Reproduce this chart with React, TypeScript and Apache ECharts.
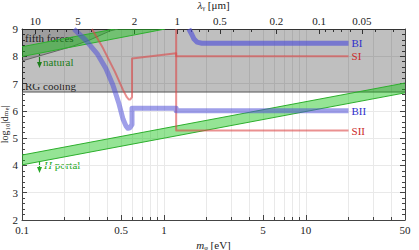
import { useEffect, useRef } from 'react';
import * as echarts from 'echarts';

const FONT = "'Liberation Serif', 'DejaVu Serif', serif";
const HC = 1.24; // eV·μm, λ = HC / m

// axis ticks
const mBottomLabels = [0.1, 0.5, 1, 5, 10, 50];
const mGridValues = [0.1, 0.2, 0.3, 0.4, 0.5, 0.6, 0.7, 0.8, 0.9, 1, 2, 3, 4, 5, 6, 7, 8, 9, 10, 20, 30, 40, 50];
const lambdaLabels = [10, 5, 2, 1, 0.5, 0.2, 0.1, 0.05];
const lambdaMinor = [9, 8, 7, 6, 4, 3, 0.9, 0.8, 0.7, 0.6, 0.4, 0.3, 0.09, 0.08, 0.07, 0.06, 0.04, 0.03];

// curves (m in eV, log10|d|)
const biM = [1.5, 1.58, 1.63, 1.71, 1.85, 20];
const biY = [9.0, 8.78, 8.63, 8.52, 8.48, 8.48];
const siM = [0.311, 0.372, 0.452, 0.515, 0.548, 0.565, 0.58, 0.596, 0.596, 1.22, 1.22, 20];
const siY = [9.0, 8.3, 7.43, 6.77, 6.5, 6.42, 6.42, 6.5, 7.92, 8.11, 8.0, 8.0];
const biiM = [0.232, 0.28, 0.338, 0.39, 0.437, 0.48, 0.515, 0.54, 0.558, 0.575, 0.596, 0.596, 1.22, 1.22, 20];
const biiY = [9.0, 8.6, 8.1, 7.55, 6.95, 6.3, 5.7, 5.45, 5.36, 5.38, 5.5, 6.1, 6.1, 6.0, 6.0];
const siiM = [1.22, 1.22, 20];
const siiY = [9.0, 5.28, 5.28];

// regions
const rgM = [0.1, 50, 50, 0.1];
const rgY = [6.69, 6.69, 9, 9];
const rgEdgeM = [0.1, 50];
const rgEdgeY = [6.69, 6.69];
const fifthM = [0.1, 0.225, 0.301, 0.417, 0.474, 0.1];
const fifthY = [7.83, 8.36, 8.6, 8.93, 9, 9];
const fifthEdgeM = [0.1, 0.225, 0.301, 0.417, 0.474];
const fifthEdgeY = [7.83, 8.36, 8.6, 8.93, 9];
const naturalLoM = [0.1, 1.02];
const naturalLoY = [7.99, 9];
const naturalHiM = [0.1, 0.447];
const naturalHiY = [8.35, 9];
const hLoM = [0.1, 50];
const hLoY = [4.02, 6.66];
const hHiM = [0.1, 50];
const hHiY = [4.38, 7.02];

const L = (v: number) => Math.log10(v);
const X_MIN = -1;
const X_MAX = Math.log10(50);

const fmtNum = (v: number) => String(v);

function pts(ms: number[], ys: number[]) {
  return ms.map((m, i) => [L(m), ys[i]]);
}

type Shape = { m: number[]; y: number[]; fill?: string; stroke?: string; width?: number };

function layer(shapes: Shape[]) {
  return {
    type: 'custom',
    coordinateSystem: 'cartesian2d',
    xAxisIndex: 0,
    yAxisIndex: 0,
    clip: true,
    silent: true,
    data: [[0, 5]],
    renderItem: (_p: any, api: any) => ({
      type: 'group',
      children: shapes.map((s) => {
        const points = s.m.map((m, i) => api.coord([L(m), s.y[i]]));
        if (s.fill) {
          return { type: 'polygon', shape: { points }, style: { fill: s.fill, stroke: null, lineWidth: 0 } };
        }
        return { type: 'polyline', shape: { points }, style: { fill: null, stroke: s.stroke, lineWidth: s.width || 1 } };
      }),
    }),
  };
}

const BLUE = 'rgb(80,80,215)';
const RED = 'rgb(220,70,70)';
const GREEN_FILL = 'rgba(20,195,20,0.45)';
const GREEN_EDGE = 'rgb(45,175,45)';

function lineSeries(ms: number[], ys: number[], color: string, width: number, opacity: number, label: string, labelColor: string) {
  return {
    type: 'line',
    xAxisIndex: 0,
    yAxisIndex: 0,
    data: pts(ms, ys),
    showSymbol: false,
    symbol: 'none',
    silent: true,
    lineStyle: { color, width, opacity, join: 'round', cap: 'butt' },
    endLabel: {
      show: true,
      formatter: label,
      color: labelColor,
      fontFamily: FONT,
      fontSize: 11,
      distance: 3,
    },
  };
}

export default function App() {
  const ref = useRef<HTMLDivElement>(null);
  useEffect(() => {
    if (!ref.current) return;
    const chart = echarts.init(ref.current, undefined, { renderer: 'svg' });
    const axisColor = '#444';
    const labelStyle = { fontFamily: FONT, fontSize: 11, color: '#222' };
    const lamToX = (lam: number) => L(HC / lam);

    const option: any = {
      animation: false,
      backgroundColor: '#fff',
      grid: { left: 22, right: 14, top: 29, bottom: 30, containLabel: false, outerBoundsMode: 'none' },
      xAxis: [
        {
          type: 'value',
          position: 'bottom',
          min: X_MIN,
          max: X_MAX,
          axisLine: { show: true, onZero: false, lineStyle: { color: axisColor, width: 1 } },
          axisTick: { show: true, inside: true, length: 5, customValues: mBottomLabels.map(L), lineStyle: { color: axisColor } },
          axisLabel: {
            ...labelStyle,
            margin: 4,
            customValues: mBottomLabels.map(L),
            formatter: (v: number) => {
              const f = mBottomLabels.find((m) => Math.abs(L(m) - v) < 1e-6);
              return f === undefined ? '' : fmtNum(f);
            },
          },
          splitLine: { show: false },
          name: '{i|m}{n|ᵩ [eV]}',
          nameLocation: 'middle',
          nameGap: 19,
          nameMoveOverlap: false,
          nameTextStyle: {
            rich: {
              i: { fontFamily: FONT, fontSize: 11, fontStyle: 'italic', color: '#222' },
              n: { fontFamily: FONT, fontSize: 11, color: '#222' },
            },
          },
        },
        {
          type: 'value',
          position: 'bottom',
          min: X_MIN,
          max: X_MAX,
          axisLine: { show: false, onZero: false },
          axisTick: { show: true, inside: true, length: 3, customValues: mGridValues.map(L), lineStyle: { color: axisColor } },
          axisLabel: { show: false },
          splitLine: { show: true, lineStyle: { color: '#e9e9e9', width: 1 } },
        },
        {
          type: 'value',
          position: 'top',
          min: X_MIN,
          max: X_MAX,
          axisLine: { show: true, onZero: false, lineStyle: { color: axisColor, width: 1 } },
          axisTick: { show: true, inside: true, length: 5, customValues: lambdaLabels.map(lamToX), lineStyle: { color: axisColor } },
          axisLabel: {
            ...labelStyle,
            margin: 3,
            customValues: lambdaLabels.map(lamToX),
            formatter: (v: number) => {
              const f = lambdaLabels.find((lam) => Math.abs(lamToX(lam) - v) < 1e-6);
              return f === undefined ? '' : fmtNum(f);
            },
          },
          splitLine: { show: false },
          name: '{i|λ}{n|ᵧ [μm]}',
          nameLocation: 'middle',
          nameGap: 19,
          nameMoveOverlap: false,
          nameTextStyle: {
            rich: {
              i: { fontFamily: FONT, fontSize: 11, fontStyle: 'italic', color: '#222', lineHeight: 11 },
              n: { fontFamily: FONT, fontSize: 11, color: '#222', lineHeight: 11 },
            },
          },
        },
        {
          type: 'value',
          position: 'top',
          min: X_MIN,
          max: X_MAX,
          axisLine: { show: false, onZero: false },
          axisTick: { show: true, inside: true, length: 3, customValues: lambdaMinor.map(lamToX), lineStyle: { color: axisColor } },
          axisLabel: { show: false },
          splitLine: { show: false },
        },
      ],
      yAxis: [
        {
          type: 'value',
          position: 'left',
          min: 2,
          max: 9,
          interval: 1,
          axisLine: { show: true, onZero: false, lineStyle: { color: axisColor, width: 1 } },
          axisTick: { show: true, inside: true, length: 5, lineStyle: { color: axisColor } },
          minorTick: { show: true, splitNumber: 5, length: 3, lineStyle: { color: axisColor } },
          axisLabel: { ...labelStyle, margin: 4 },
          splitLine: { show: true, lineStyle: { color: '#e9e9e9', width: 1 } },
          name: 'log₁₀|dₘₑ|',
          nameLocation: 'middle',
          nameGap: 13,
          nameMoveOverlap: false,
          nameTextStyle: { fontFamily: FONT, fontSize: 10, color: '#222', lineHeight: 10 },
        },
        {
          type: 'value',
          position: 'right',
          min: 2,
          max: 9,
          interval: 1,
          axisLine: { show: true, onZero: false, lineStyle: { color: axisColor, width: 1 } },
          axisTick: { show: true, inside: true, length: 5, lineStyle: { color: axisColor } },
          minorTick: { show: true, splitNumber: 5, length: 3, lineStyle: { color: axisColor } },
          axisLabel: { show: false },
          splitLine: { show: false },
        },
      ],
      series: [
        layer([
          { m: rgM, y: rgY, fill: 'rgba(0,0,0,0.25)' },
          { m: fifthM, y: fifthY, fill: 'rgba(0,0,0,0.17)' },
          { m: rgEdgeM, y: rgEdgeY, stroke: '#555' },
          { m: fifthEdgeM, y: fifthEdgeY, stroke: '#666' },
        ]),
        layer([
          { m: [...naturalLoM, ...naturalHiM.slice().reverse()], y: [...naturalLoY, ...naturalHiY.slice().reverse()], fill: GREEN_FILL },
          { m: naturalLoM, y: naturalLoY, stroke: GREEN_EDGE },
          { m: naturalHiM, y: naturalHiY, stroke: GREEN_EDGE },
          { m: [...hLoM, ...hHiM.slice().reverse()], y: [...hLoY, ...hHiY.slice().reverse()], fill: GREEN_FILL },
          { m: hLoM, y: hLoY, stroke: GREEN_EDGE },
          { m: hHiM, y: hHiY, stroke: GREEN_EDGE },
        ]),
        lineSeries(siM, siY, RED, 2, 0.6, 'SI', '#cc2a2a'),
        lineSeries(siiM, siiY, RED, 2, 0.6, 'SII', '#cc2a2a'),
        lineSeries(biM, biY, BLUE, 5, 0.65, 'BI', '#2f2fcc'),
        lineSeries(biiM, biiY, BLUE, 5, 0.55, 'BII', '#2f2fcc'),
      ],
      graphic: [
        { type: 'text', left: 25, top: 32, silent: true, style: { text: 'fifth forces', fontFamily: FONT, fontSize: 11, fill: '#333' } },
        { type: 'text', left: 25, top: 80, silent: true, style: { text: 'RG cooling', fontFamily: FONT, fontSize: 11, fill: '#333' } },
        { type: 'text', left: 43, top: 56, silent: true, style: { text: 'natural', fontFamily: FONT, fontSize: 11, fill: '#27a827' } },
        {
          type: 'text', left: 44, top: 159, silent: true,
          style: {
            text: '{i|H}{n| portal}',
            rich: {
              i: { fontFamily: FONT, fontSize: 11, fontStyle: 'italic', fill: '#27a827' },
              n: { fontFamily: FONT, fontSize: 11, fill: '#27a827' },
            },
          },
        },
        { type: 'line', silent: true, shape: { x1: 39.5, y1: 54, x2: 39.5, y2: 64 }, style: { stroke: '#27a827', lineWidth: 1.2 } },
        { type: 'polygon', silent: true, shape: { points: [[37, 62], [42, 62], [39.5, 68]] }, style: { fill: '#27a827' } },
        { type: 'line', silent: true, shape: { x1: 39.5, y1: 161, x2: 39.5, y2: 169 }, style: { stroke: '#27a827', lineWidth: 1.2 } },
        { type: 'polygon', silent: true, shape: { points: [[37, 167], [42, 167], [39.5, 173]] }, style: { fill: '#27a827' } },
      ],
    };
    chart.setOption(option);
    return () => chart.dispose();
  }, []);
  return <div ref={ref} style={{ position: 'fixed', left: 0, top: 0, width: 419, height: 250, background: '#fff' }} />;
}
